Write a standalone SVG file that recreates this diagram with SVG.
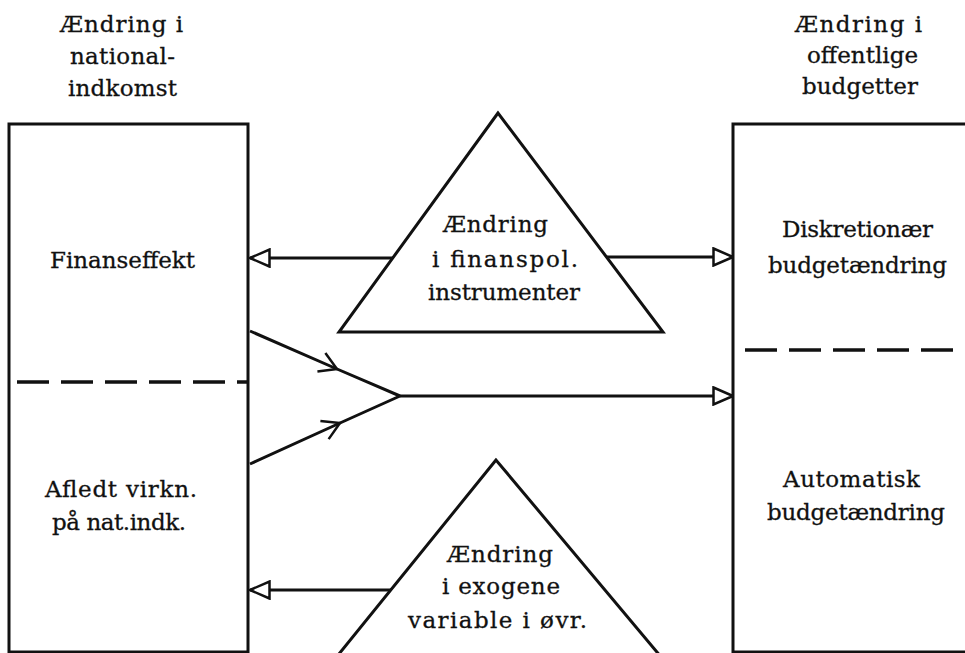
<svg xmlns="http://www.w3.org/2000/svg" width="965" height="653" viewBox="0 0 965 653">
<style>
text{font-family:"DejaVu Serif","Liberation Serif",serif;font-size:23px;fill:#111;stroke:#111;stroke-width:0.3}
.ln{fill:none;stroke:#111;stroke-width:3;stroke-linejoin:miter}
.dash{fill:none;stroke:#111;stroke-width:3.5;stroke-dasharray:32 12}
.con{fill:none;stroke:#111;stroke-width:3}
</style>
<defs>
<marker id="open" viewBox="0 0 22 20" refX="21" refY="10" markerWidth="22" markerHeight="20" markerUnits="userSpaceOnUse" orient="auto">
<path d="M1.5,1.5 L21,10 L1.5,18.5 Z" fill="#fff" stroke="#111" stroke-width="2.5"/>
</marker>
<marker id="vee" viewBox="-20 -12 22 24" refX="0" refY="0" markerWidth="22" markerHeight="24" markerUnits="userSpaceOnUse" orient="auto">
<path d="M-17,-10 L0,0 L-17,10" fill="none" stroke="#111" stroke-width="2.5"/>
</marker>
</defs>
<rect width="965" height="653" fill="#fff"/>
<g id="heading-left">
<text x="60" y="32" textLength="123" lengthAdjust="spacing">Ændring i</text>
<text x="70" y="64" textLength="105" lengthAdjust="spacing">national-</text>
<text x="68" y="96" textLength="109" lengthAdjust="spacing">indkomst</text>
</g>
<g id="heading-right">
<text x="795" y="32" textLength="127" lengthAdjust="spacing">Ændring i</text>
<text x="807" y="63" textLength="111" lengthAdjust="spacing">offentlige</text>
<text x="802" y="94" textLength="116" lengthAdjust="spacing">budgetter</text>
</g>
<g id="box-left">
<rect class="ln" x="9" y="124" width="239" height="528"/>
<line class="dash" x1="17" y1="382" x2="248" y2="382"/>
<text x="50" y="268" textLength="145" lengthAdjust="spacing">Finanseffekt</text>
<text x="45" y="497" textLength="152" lengthAdjust="spacing">Afledt virkn.</text>
<text x="52" y="530" textLength="134" lengthAdjust="spacing">på nat.indk.</text>
</g>
<g id="box-right">
<path class="ln" d="M968,124 H733 V652 H968"/>
<line class="dash" x1="745" y1="350" x2="965" y2="350"/>
<text x="782" y="237" textLength="151" lengthAdjust="spacing">Diskretionær</text>
<text x="768" y="273" textLength="179" lengthAdjust="spacing">budgetændring</text>
<text x="783" y="487" textLength="137" lengthAdjust="spacing">Automatisk</text>
<text x="767" y="520" textLength="178" lengthAdjust="spacing">budgetændring</text>
</g>
<g id="triangle-top">
<polygon class="ln" points="498,113 339,332 663,332"/>
<text x="443" y="232" textLength="105" lengthAdjust="spacing">Ændring</text>
<text x="432" y="267" textLength="146" lengthAdjust="spacing">i finanspol.</text>
<text x="428" y="300" textLength="152" lengthAdjust="spacing">instrumenter</text>
</g>
<g id="triangle-bottom">
<polygon class="ln" points="496,460 326,670 672,670"/>
<text x="447" y="562" textLength="106" lengthAdjust="spacing">Ændring</text>
<text x="442" y="594" textLength="118" lengthAdjust="spacing">i exogene</text>
<text x="408" y="628" textLength="179" lengthAdjust="spacing">variable i øvr.</text>
</g>
<g id="connectors">
<line class="con" x1="393" y1="258" x2="250" y2="258" marker-end="url(#open)"/>
<line class="con" x1="607" y1="257" x2="733" y2="257" marker-end="url(#open)"/>
<polyline class="con" points="250,331 337,369 400,396" marker-mid="url(#vee)"/>
<polyline class="con" points="250,464 340,423 400,396" marker-mid="url(#vee)"/>
<line class="con" x1="400" y1="396" x2="733" y2="396" marker-end="url(#open)"/>
<line class="con" x1="391" y1="590" x2="250" y2="590" marker-end="url(#open)"/>
</g>
</svg>
